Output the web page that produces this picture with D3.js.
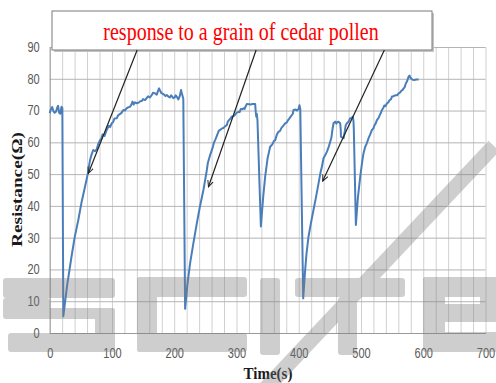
<!DOCTYPE html>
<html>
<head>
<meta charset="utf-8">
<script src="https://cdn.jsdelivr.net/npm/d3@7"></script>
<style>
  body { margin: 0; background: #fff; }
  svg { display: block; }
</style>
</head>
<body>
<div id="okvir"></div>
<script>
// podaci ocitani sa slike
const time = [
  0, 2, 4, 6, 8, 10, 12, 13.5, 15, 17, 19, 20.3, 21.9,
  28, 35, 40, 46, 51, 56.7, 60, 62, 63.5, 64.8, 67, 70, 73, 75.5, 78, 80.9, 83, 85, 88, 91.6, 95, 97, 99.7,
  102, 104, 107.7, 110, 112, 115, 118.3, 121, 123, 126, 129, 131, 133, 135, 137, 139.9, 143, 145, 148, 150,
  153.2, 156, 158, 161, 164, 166, 169.3, 172, 174, 175.7, 177, 179, 182.6, 186, 188, 190.7, 193, 195, 198.7,
  201, 202.5, 204, 206.7, 209, 211, 212, 213, 214.6, 217.5,
  221, 225.5, 231, 236.3, 241, 246.9, 250, 252.4, 254, 257.7, 260, 262, 264, 265.7, 268, 270, 271.5, 273.7,
  276, 279, 282, 284.5, 286, 288, 290, 292.5, 295, 297, 300, 303.2, 305, 307, 309, 311.2, 313, 314.5, 316.7,
  320, 323, 326, 330, 331, 331.8, 332.6, 333.7, 339.2, 343, 346.1, 350, 354.1, 356, 358, 360, 362.2, 365,
  367.5, 370, 372, 375, 378.2, 381, 383, 386, 389, 390.5, 391.6, 395, 397, 399.6, 401.2, 402.5, 407.2,
  410, 412.5, 415.7, 419.5, 423.7, 428, 431.8, 435, 437.2, 439.8, 442, 445.2, 448, 450.6, 452.5, 454, 455.9,
  458.6, 460.5, 462, 463.9, 466.6, 467.5, 467.8, 470, 472, 474, 475.5, 477.4, 480, 482.7, 485, 487, 488,
  488.5, 491.8, 495, 498.8, 502, 504, 506.8, 509, 512.2, 515, 517.6, 520, 521.5, 523.5, 525.6, 528, 530,
  532, 533.7, 536, 537.5, 539.5, 541.7, 544, 546, 548, 549.8, 552, 555, 558, 560.4, 563, 565, 567, 568.6,
  570, 572, 574, 576.5, 578, 579.5, 581, 583, 586, 589, 592.6
]
const resistance = [
  69.2, 70.5, 71.1, 69.8, 69.3, 69.6, 70.9, 71.5, 69.4, 69, 71.2, 70.8, 5.3,
  15, 24, 30, 35.6, 41, 46, 49, 50.8, 53, 54.4, 56, 57.6, 57.2, 57.8, 59.5, 60.7, 61.2, 62.5, 62, 63.9, 65.2, 64.8, 66,
  66.4, 67.5, 67.6, 68.5, 68.8, 69.2, 70.2, 70, 70.6, 71, 71.2, 71.8, 72.8, 71.9, 72.6, 72.3, 72.5, 72.9, 73, 73.6,
  73.3, 74, 74.5, 74.1, 74.9, 75.6, 75.4, 75, 76.2, 77, 76.4, 75.6, 75.2, 74.6, 74.9, 74.4, 74.1, 74.8, 73.9,
  74.2, 74.8, 74.4, 73.5, 74.6, 76.5, 75.5, 74.9, 73.7, 7.6,
  15, 21.9, 28.5, 34.5, 39.5, 45, 48.5, 51.3, 53.5, 56, 57.3, 58.5, 60, 60.7, 61.8, 62.8, 63.6, 63.9,
  64.3, 64.5, 65.1, 65.4, 66.5, 67, 67.4, 68.1, 68.2, 68.5, 69.3, 69.6, 69.5, 70.5, 70.4, 70.7, 70.5, 71.2, 72.1,
  72, 71.9, 72.1, 72.1, 69.5, 68.1, 69, 67, 33.5, 43, 49.2, 55, 58.6, 59, 59.5, 60.4, 60.7, 62.5,
  63.3, 63.6, 64.5, 65.2, 66, 66.3, 67, 67.8, 68.6, 69, 70.2, 70.3, 70, 70.4, 71.7, 70.5, 10.9,
  19, 25, 30.3, 34.5, 38.7, 43, 47.1, 50.5, 52.3, 55, 55.8, 57, 58.5, 60.2, 61.5, 63.8, 66,
  66.5, 65.9, 66.4, 66.5, 66, 64, 61.8, 61.5, 61.3, 63.5, 65.4, 66, 66.5, 67.6, 67.7, 68.1, 66.5,
  64, 34, 42.5, 49.2, 54, 56.5, 58.6, 59.5, 61.3, 62.6, 63.9, 64.4, 65.3, 65.9, 67, 67.6, 68.5,
  69.3, 70.2, 70.9, 71.6, 71.4, 72.3, 72.6, 73.3, 73.5, 74.4, 74.5, 74.8, 74.8, 75.4, 75.7, 76.3, 76.5, 77,
  77.3, 78.5, 79.2, 80.7, 81, 80.3, 80, 79.7, 79.6, 79.8, 79.8
]

const xTickLabels = [0, 100, 200, 300, 400, 500, 600, 700]
const yTickLabels = [0, 10, 20, 30, 40, 50, 60, 70, 80, 90]
const xGridStep = 20

const annotationText = "response to a grain of cedar pollen"
const arrowTailTime = [140.5, 331.6, 537.6]
const arrowTipTime = [62, 255, 438.5]
const arrowTipRes = [50.2, 46, 47.8]

const xLabel = "Time(s)"
const yLabel = "Resistance(Ω)"

// dimenzije
const dim = { w: 496, h: 383, left: 49.7, right: 485.5, top: 47, bottom: 333 }

const svg = d3.select("#okvir").append("svg")
  .attr("width", dim.w)
  .attr("height", dim.h)

const xScale = d3.scaleLinear().domain([0, 700]).range([dim.left, dim.right])
const yScale = d3.scaleLinear().domain([0, 90]).range([dim.bottom, dim.top])

// mreza
const gridV = svg.append("g")
  .attr("transform", `translate(0,${dim.bottom})`)
  .call(d3.axisBottom(xScale)
    .tickValues(d3.range(0, 701, xGridStep))
    .tickSize(-(dim.bottom - dim.top))
    .tickFormat(""))
gridV.select(".domain").remove()
gridV.selectAll("line").attr("stroke", "#d0d0d0")

const gridH = svg.append("g")
  .attr("transform", `translate(${dim.left},0)`)
  .call(d3.axisLeft(yScale)
    .tickValues(yTickLabels)
    .tickSize(-(dim.right - dim.left))
    .tickFormat(""))
gridH.select(".domain").remove()
gridH.selectAll("line").attr("stroke", "#b4b4b4")

// osi
const xAxis = svg.append("g")
  .attr("transform", `translate(0,${dim.bottom})`)
  .call(d3.axisBottom(xScale).tickValues(xTickLabels).tickSize(0).tickSizeOuter(0).tickPadding(12))
xAxis.select(".domain").attr("stroke", "#9a9a9a")
xAxis.selectAll("text")
  .attr("font-family", "Liberation Sans")
  .attr("font-size", 11)
  .attr("fill", "#595959")
  .attr("transform", "scale(1,1.25)")

const yAxis = svg.append("g")
  .attr("transform", `translate(${dim.left},0)`)
  .call(d3.axisLeft(yScale).tickValues(yTickLabels).tickSize(0).tickSizeOuter(0).tickPadding(10))
yAxis.select(".domain").attr("stroke", "#9a9a9a")
yAxis.selectAll("text")
  .attr("font-family", "Liberation Sans")
  .attr("font-size", 11)
  .attr("fill", "#595959")
  .attr("transform", "scale(1,1.25)")

// krivulja
const line = d3.line()
  .x((d, i) => xScale(time[i]))
  .y((d, i) => yScale(resistance[i]))

svg.append("path")
  .datum(resistance)
  .attr("d", line)
  .attr("fill", "none")
  .attr("stroke", "#4a7ebb")
  .attr("stroke-width", 2)
  .attr("stroke-linejoin", "round")

// natpisi osi
svg.append("text")
  .attr("transform", "translate(268,378.5) scale(1,1.15)")
  .attr("text-anchor", "middle")
  .attr("font-family", "Liberation Serif")
  .attr("font-weight", "bold")
  .attr("font-size", 15)
  .attr("fill", "#1a1a1a")
  .text(xLabel)

svg.append("text")
  .attr("transform", "translate(21.5,189.5) rotate(-90)")
  .attr("text-anchor", "middle")
  .attr("font-family", "Liberation Serif")
  .attr("font-weight", "bold")
  .attr("font-size", 14)
  .attr("textLength", 115)
  .attr("lengthAdjust", "spacingAndGlyphs")
  .attr("fill", "#1a1a1a")
  .text(yLabel)

// okvir s natpisom
const box = { x: 52, y: 11, w: 380, h: 39 }
svg.append("rect")
  .attr("x", box.x + 2).attr("y", box.y + 2)
  .attr("width", box.w).attr("height", box.h)
  .attr("fill", "#c4c4c4")
svg.append("rect")
  .attr("x", box.x).attr("y", box.y)
  .attr("width", box.w).attr("height", box.h)
  .attr("fill", "#fff")
  .attr("stroke", "#7a7a7a")
  .attr("stroke-width", 1)
svg.append("text")
  .attr("transform", `translate(${box.x + box.w / 2 - 1},40) scale(1,1.3)`)
  .attr("text-anchor", "middle")
  .attr("font-family", "Liberation Serif")
  .attr("font-size", 20)
  .attr("fill", "#ff0000")
  .text(annotationText)

// strelice
svg.append("defs").append("marker")
  .attr("id", "strelica")
  .attr("viewBox", "0 -5 10 10")
  .attr("refX", 9).attr("refY", 0)
  .attr("markerWidth", 7).attr("markerHeight", 7)
  .attr("markerUnits", "userSpaceOnUse")
  .attr("orient", "auto")
  .append("path")
    .attr("d", "M0,-4L9,0L0,4")
    .attr("fill", "none")
    .attr("stroke", "#222")
    .attr("stroke-width", 1.4)

svg.append("g").selectAll("line")
  .data(arrowTipTime)
  .join("line")
    .attr("x1", (d, i) => xScale(arrowTailTime[i]))
    .attr("y1", box.y + box.h)
    .attr("x2", d => xScale(d))
    .attr("y2", (d, i) => yScale(arrowTipRes[i]))
    .attr("stroke", "#222")
    .attr("stroke-width", 1.2)
    .attr("marker-end", "url(#strelica)")

// vodeni zig
const wm = svg.append("g").attr("opacity", 0.36).attr("fill", "#7a7a7a")
const wmRects = [
  [3, 278, 112, 20], [3, 298, 47, 20], [3, 308, 112, 11], [95, 308, 20, 44], [8, 333, 107, 19],
  [137, 277, 110, 20], [137, 277, 20, 75], [137, 333, 110, 19],
  [260, 278, 20, 77],
  [295, 278, 110, 19], [338, 297, 19, 58],
  [423, 277, 77, 20], [423, 277, 22, 75], [423, 304, 67, 18], [480, 277, 20, 45], [423, 332, 77, 20]
]
wm.selectAll("rect")
  .data(wmRects)
  .join("rect")
    .attr("x", d => d[0]).attr("y", d => d[1])
    .attr("width", d => d[2]).attr("height", d => d[3])
    .attr("rx", 3)
wm.append("line")
  .attr("x1", 494).attr("y1", 146)
  .attr("x2", 266).attr("y2", 388)
  .attr("stroke", "#7a7a7a")
  .attr("stroke-width", 15)
</script>
</body>
</html>
